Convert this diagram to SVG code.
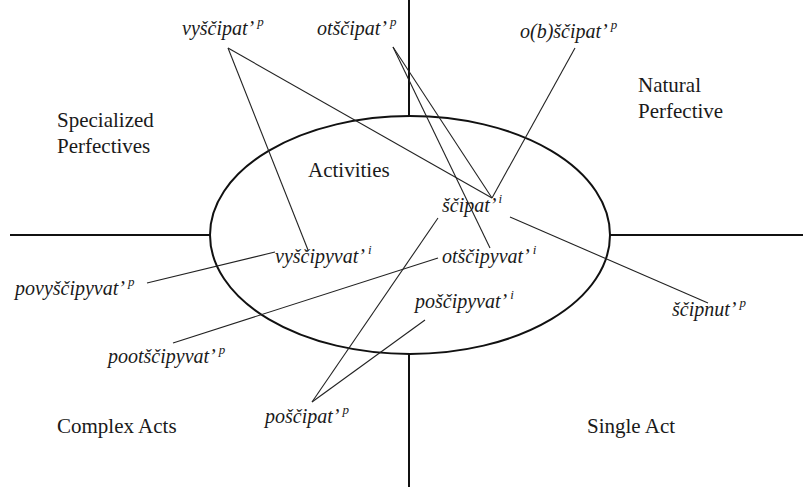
<svg xmlns="http://www.w3.org/2000/svg" width="803" height="487" viewBox="0 0 803 487">
<style>
text{font-family:"Liberation Serif","Times New Roman",serif;fill:#1a1a1a}
.lab{font-size:21px}
.w{font-size:20px;font-style:italic}
.sup{font-size:13px}
.ax{stroke:#111;stroke-width:2;fill:none}
.cn{stroke:#222;stroke-width:1.1;fill:none}
</style>
<rect width="803" height="487" fill="#fff"/>
<g id="axes">
<line class="ax" x1="409" y1="0" x2="409" y2="116"/>
<line class="ax" x1="409" y1="354" x2="409" y2="487"/>
<line class="ax" x1="10" y1="235" x2="210" y2="235"/>
<line class="ax" x1="610" y1="235" x2="803" y2="235"/>
</g>
<g id="ellipse">
<ellipse class="ax" cx="410" cy="235" rx="200" ry="119"/>
</g>
<g id="connectors">
<line class="cn" x1="228" y1="48" x2="308" y2="250"/>
<line class="cn" x1="228" y1="48" x2="492" y2="198"/>
<line class="cn" x1="393" y1="47" x2="492" y2="198"/>
<line class="cn" x1="393" y1="47" x2="490" y2="248"/>
<line class="cn" x1="575" y1="48" x2="492" y2="198"/>
<line class="cn" x1="510" y1="217" x2="708" y2="303"/>
<line class="cn" x1="147" y1="283" x2="275" y2="252"/>
<line class="cn" x1="173" y1="343" x2="438" y2="258"/>
<line class="cn" x1="438" y1="218" x2="312" y2="402"/>
<line class="cn" x1="425" y1="320" x2="312" y2="402"/>
</g>
<g id="quadrant-labels">
<text class="lab" x="57" y="127">Specialized</text>
<text class="lab" x="57" y="153">Perfectives</text>
<text class="lab" x="638" y="92">Natural</text>
<text class="lab" x="638" y="118">Perfective</text>
<text class="lab" x="308" y="177">Activities</text>
<text class="lab" x="57" y="433">Complex Acts</text>
<text class="lab" x="587" y="433">Single Act</text>
</g>
<g id="n-vyscipat"><text class="w" x="182" y="35">vyščipat’<tspan class="sup" dx="3" dy="-9">p</tspan></text></g>
<g id="n-otscipat"><text class="w" x="317" y="35">otščipat’<tspan class="sup" dx="3" dy="-9">p</tspan></text></g>
<g id="n-obscipat"><text class="w" x="520" y="38">o(b)ščipat’<tspan class="sup" dx="3" dy="-9">p</tspan></text></g>
<g id="n-scipat"><text class="w" x="442" y="212">ščipat’<tspan class="sup" dx="2" dy="-9">i</tspan></text></g>
<g id="n-vyscipyvat"><text class="w" x="275" y="263">vyščipyvat’<tspan class="sup" dx="3" dy="-9">i</tspan></text></g>
<g id="n-otscipyvat"><text class="w" x="442" y="263">otščipyvat’<tspan class="sup" dx="3" dy="-9">i</tspan></text></g>
<g id="n-povyscipyvat"><text class="w" x="15" y="295">povyščipyvat’<tspan class="sup" dx="3" dy="-9">p</tspan></text></g>
<g id="n-pootscipyvat"><text class="w" x="108" y="363">pootščipyvat’<tspan class="sup" dx="3" dy="-9">p</tspan></text></g>
<g id="n-poscipyvat"><text class="w" x="415" y="308">poščipyvat’<tspan class="sup" dx="3" dy="-9">i</tspan></text></g>
<g id="n-poscipat"><text class="w" x="265" y="423">poščipat’<tspan class="sup" dx="3" dy="-9">p</tspan></text></g>
<g id="n-scipnut"><text class="w" x="672" y="316">ščipnut’<tspan class="sup" dx="3" dy="-9">p</tspan></text></g>
</svg>
